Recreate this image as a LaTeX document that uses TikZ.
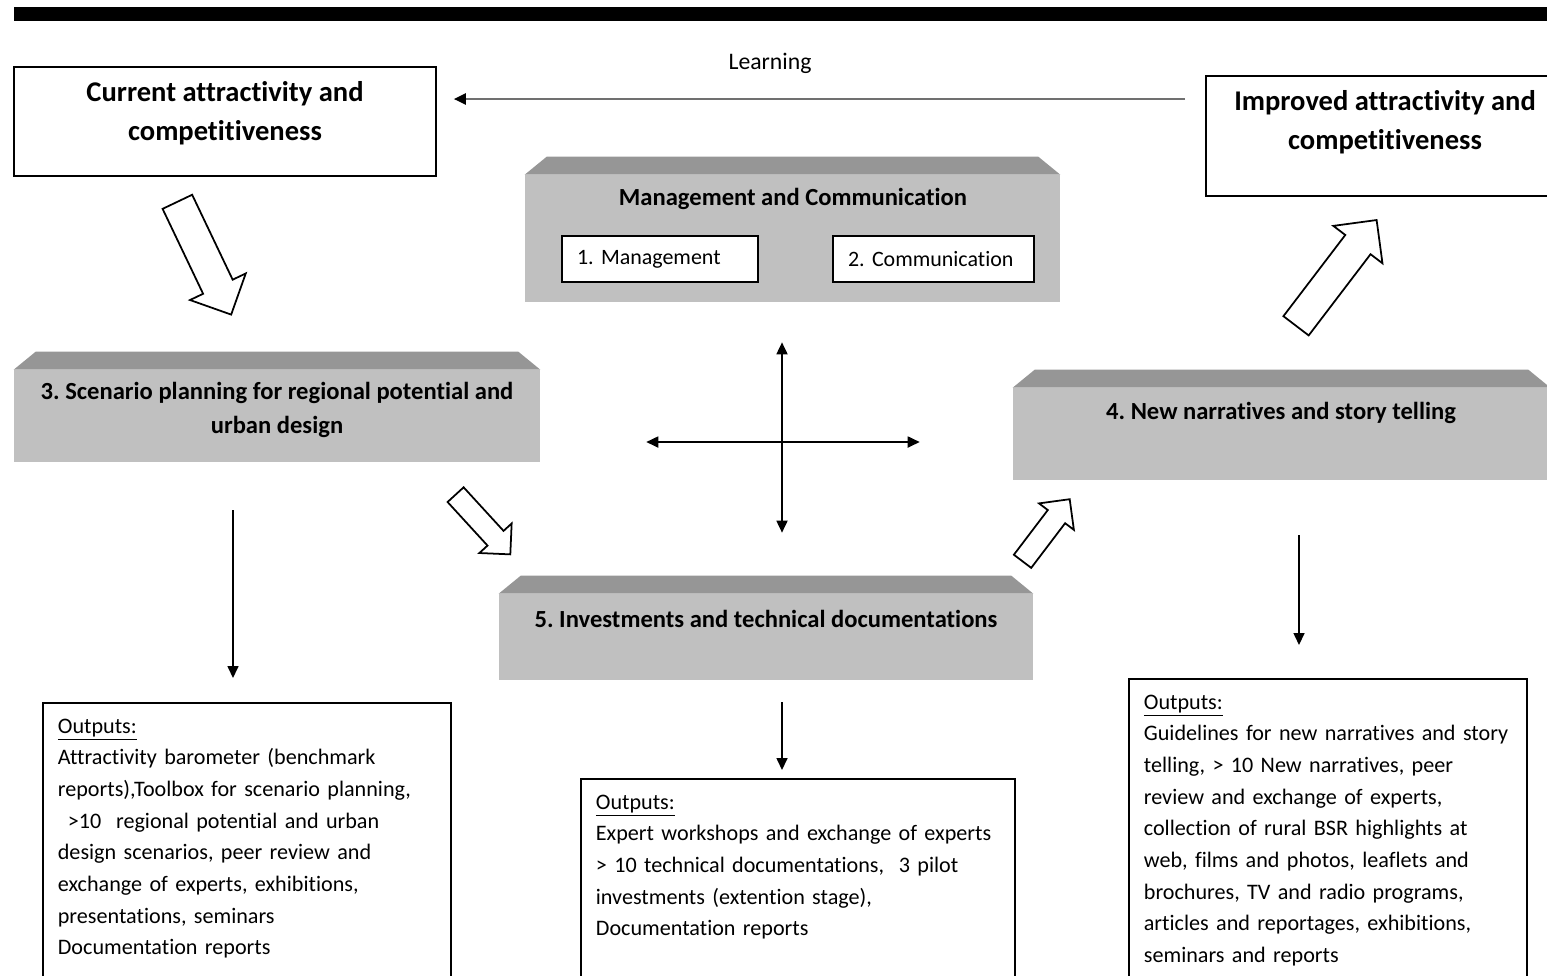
\documentclass[tikz,border=0pt]{standalone}
\usepackage{fontspec}
\setmainfont{Carlito}[Ligatures=NoCommon]
\usepackage{xcolor}
\usepackage{tikz}
\usetikzlibrary{calc, shapes.arrows}
\usetikzlibrary{arrows.meta}
\tikzset{>={Triangle[width=2.2mm,length=2.4mm]}}

\definecolor{facegray}{HTML}{C0C0C0}
\definecolor{topgray}{HTML}{969696}
\definecolor{learngray}{HTML}{707070}

% dark top face of a grey block
\newcommand{\stagetop}[1]{\fill[topgray] (#1.north west) -- ($(#1.north west)+(22,-18)$) -- ($(#1.north east)+(-22,-18)$) -- (#1.north east) -- cycle;}

\begin{document}
\frenchspacing
\begin{tikzpicture}[x=0.02cm, y=-0.02cm, whitebox/.style={rectangle, draw=black, line width=1pt, fill=white, inner sep=0pt}, stage/.style={rectangle, fill=facegray, inner sep=0pt}, headtext/.style={align=center, inner sep=0pt, font=\fontsize{16.25}{22.2}\selectfont\bfseries}, stagetext/.style={align=center, inner sep=0pt, font=\fontsize{14}{19.3}\selectfont\bfseries}, subbox/.style={rectangle, draw=black, line width=1pt, fill=white, inner xsep=0.3cm, minimum height=0.92cm, align=left, font=\fontsize{12.5}{14}\selectfont}, outbox/.style={rectangle, draw=black, line width=1pt, fill=white, anchor=north west, inner xsep=0.3cm, inner ysep=0.32cm, text depth=6cm, align=left, font=\fontsize{12.6}{18}\selectfont}, hollow/.style={single arrow, draw=black, line width=1pt, fill=white, inner xsep=0pt, anchor=tail}, link/.style={->, line width=0.9pt}]

    %Frame
    \useasboundingbox (0,0) rectangle (1547,975);
    \clip (0,0) rectangle (1547,975);
    \fill[black] (14,7) rectangle (1560,21);

    %Start and end
    \node[whitebox, minimum width=8.44cm, minimum height=2.18cm](current) at (225,121.5){};
    \node[headtext](current-text) at (225,113.5){Current attractivity and\\competitiveness};
    \node[whitebox, minimum width=7.12cm, minimum height=2.4cm](improved) at (1384,136){};
    \node[headtext](improved-text) at (1385,122){Improved attractivity and\\competitiveness};
    \node[font=\fontsize{13.5}{15}\selectfont](learning) at (770,63){Learning};
    \coordinate (lrn) at (0,99);

    %Grey blocks
    \node[stage, minimum width=10.7cm, minimum height=2.54cm](mgmt) at (792.5,238.5){};
    \stagetop{mgmt}
    \node[stagetext](mgmt-text) at (793,199){Management and Communication};
    \node[subbox, text width=3.32cm](management) at (660,259){1. Management};
    \node[subbox, text width=3.42cm](communication) at (933.5,259){2. Communication};

    \node[stage, minimum width=10.52cm, minimum height=1.84cm](scenario) at (277,416){};
    \stagetop{scenario}
    \node[stagetext](scenario-text) at (277,410){3. Scenario planning for regional potential and\\urban design};

    \node[stage, minimum width=10.74cm, minimum height=1.84cm](narratives) at (1281.5,434){};
    \stagetop{narratives}
    \node[stagetext](narratives-text) at (1281,413){4. New narratives and story telling};

    \node[stage, minimum width=10.68cm, minimum height=1.72cm](invest) at (766,637){};
    \stagetop{invest}
    \node[stagetext](invest-text) at (766,619){5. Investments and technical documentations};

    %Outputs
    \node[outbox, text width=7.56cm](out3) at (42,702){\underline{Outputs:}\\Attractivity barometer (benchmark\\reports),Toolbox for scenario planning,\\\hspace*{0.45em}>10\ \ regional potential and urban\\design scenarios, peer review and\\exchange of experts, exhibitions,\\presentations, seminars\\Documentation reports};
    \node[outbox, text width=8.08cm](out5) at (580,778){\underline{Outputs:}\\Expert workshops and exchange of experts\\> 10 technical documentations,\ \ 3 pilot\\investments (extention stage),\\Documentation reports};
    \node[outbox, text width=7.36cm](out4) at (1128,678){\underline{Outputs:}\\Guidelines for new narratives and story\\telling, > 10 New narratives, peer\\review and exchange of experts,\\collection of rural BSR highlights at\\web, films and photos, leaflets and\\brochures, TV and radio programs,\\articles and reportages, exhibitions,\\seminars and reports};

    %Hollow arrows
    \node[hollow, inner ysep=0.31cm, minimum height=2.5cm, minimum width=1.2cm, single arrow head extend=0.29cm, rotate=-64.5](arr1) at (177,201){};
    \node[hollow, inner ysep=0.2cm, minimum height=1.62cm, minimum width=0.84cm, single arrow head extend=0.22cm, rotate=-47.5](arr2) at (455,494){};
    \node[hollow, inner ysep=0.2cm, minimum height=1.56cm, minimum width=0.84cm, single arrow head extend=0.22cm, rotate=52.8](arr3) at (1022,562){};
    \node[hollow, inner ysep=0.3cm, minimum height=2.66cm, minimum width=1.2cm, single arrow head extend=0.3cm, rotate=52.7](arr4) at (1295.5,326.5){};

    %Lines
    \coordinate (hub) at (782,442);
    \draw[-{Triangle[width=2.2mm,length=2.4mm,color=black]}, draw=learngray, line width=1.2pt, shorten <=0.4cm, shorten >=0.34cm] (improved.west |- lrn) -- (current.east |- lrn);
    \draw[<->, line width=1pt, shorten <=0.8cm, shorten >=1.22cm] (mgmt.south -| hub) -- (invest.north -| hub);
    \draw[<->, line width=1pt, shorten <=2.12cm, shorten >=1.86cm] (scenario.east |- hub) -- (narratives.west |- hub);
    \coordinate (d3) at (233,0);
    \coordinate (d5) at (782,0);
    \coordinate (d4) at (1299,0);
    \draw[link, shorten <=0.96cm, shorten >=0.48cm] (scenario.south -| d3) -- (out3.north -| d3);
    \draw[link, shorten <=0.44cm, shorten >=0.16cm] (invest.south -| d5) -- (out5.north -| d5);
    \draw[link, shorten <=1.1cm, shorten >=0.66cm] (narratives.south -| d4) -- (out4.north -| d4);

\end{tikzpicture}
\end{document}
